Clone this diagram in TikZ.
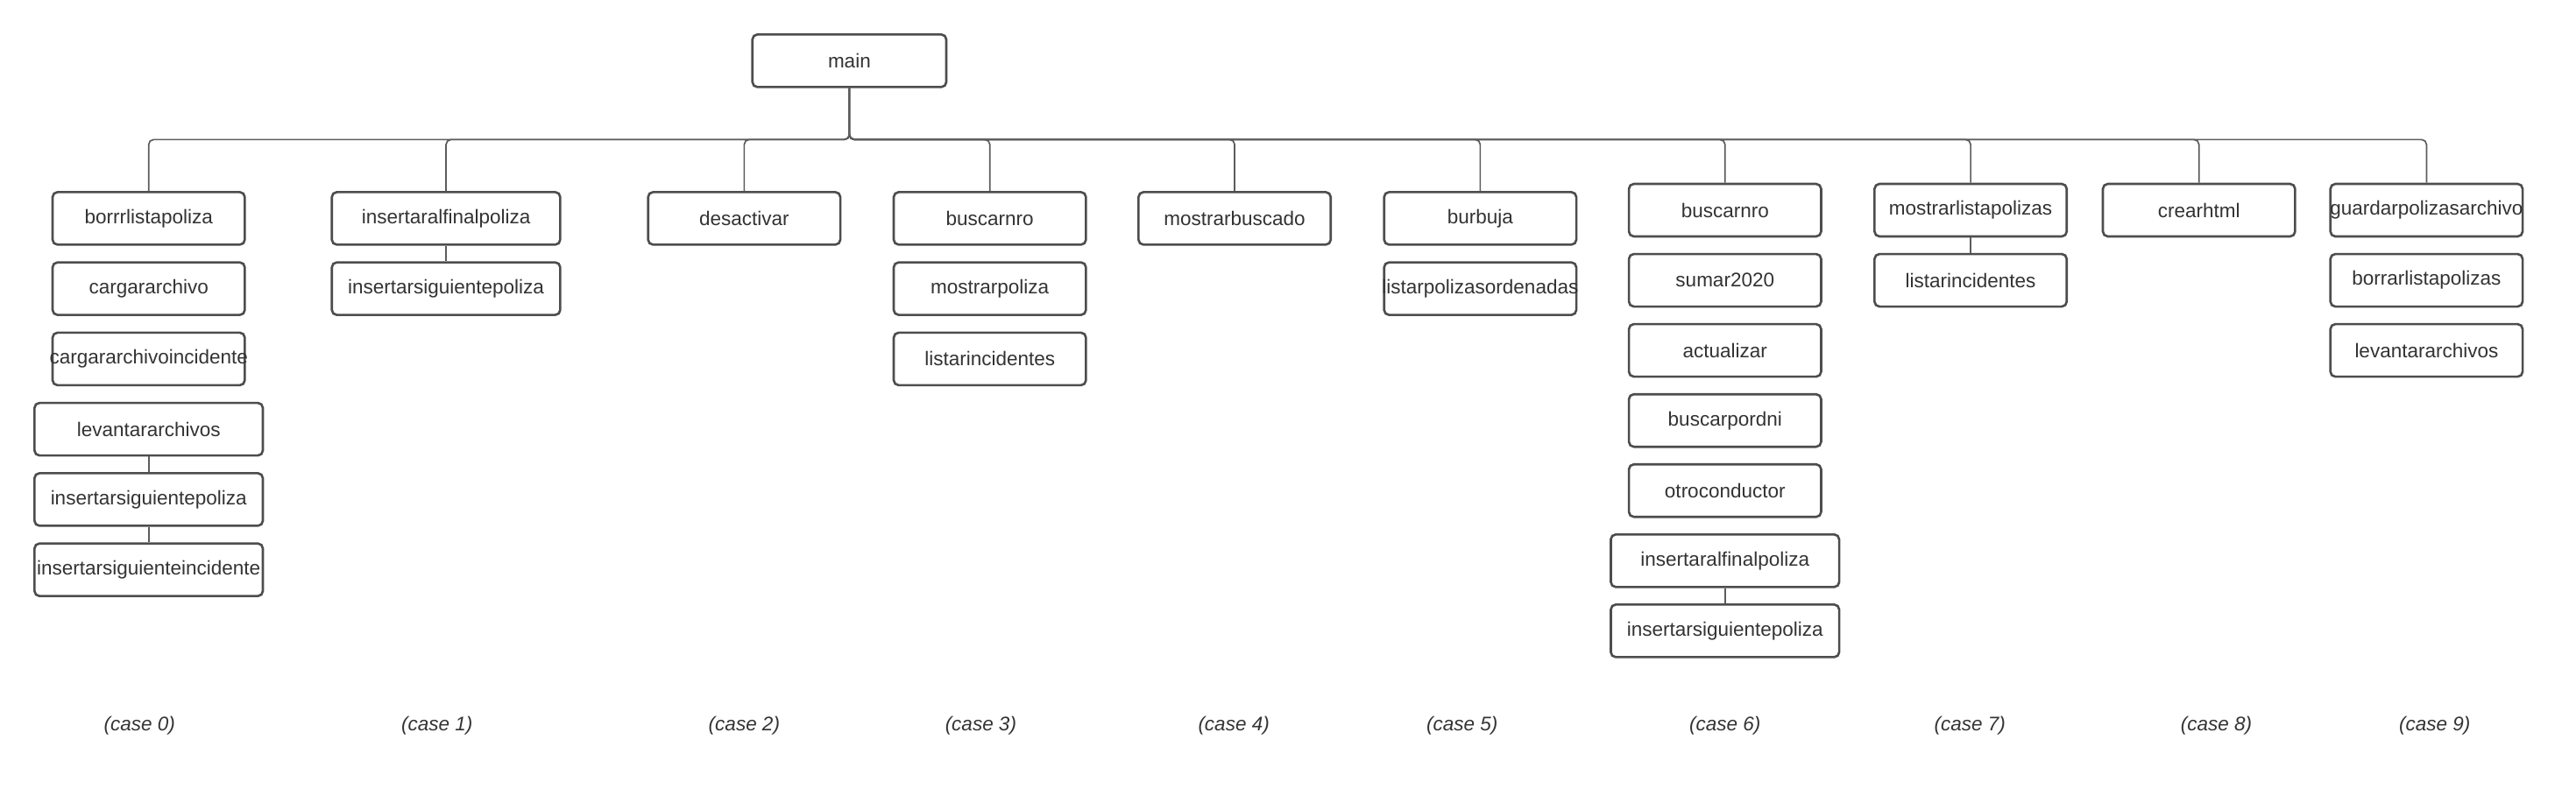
\documentclass[tikz,border=0pt]{standalone}
\usepackage{fontspec}
\setmainfont{Liberation Sans}
\usetikzlibrary{positioning}

\definecolor{boxline}{HTML}{4D4D4D}
\definecolor{wireline}{HTML}{5C5C5C}
\definecolor{labeltext}{HTML}{333333}

\newcommand{\fname}[1]{\makebox[0pt]{#1}}

\tikzset{
  fn/.style={draw=boxline, line width=1.4pt, rounded corners=3pt, fill=white,
    minimum width=117pt, minimum height=32pt, inner sep=0pt, text=labeltext,
    font=\fontsize{12}{14}\selectfont},
  fnwide/.style={fn, minimum width=139pt},
  wire/.style={draw=wireline, line width=0.9pt},
  caselabel/.style={text=labeltext, font=\fontsize{12}{14}\selectfont\itshape}
}

\begin{document}
\begin{tikzpicture}[x=1pt, y=1pt]
    \useasboundingbox (0,0) rectangle (1568,-480);

    % Root
    \node[fn, minimum width=118pt] (main) at (517,-37) {main};
    \coordinate (bus) at (517,-85);

    % case 0
    \foreach \name [count=\i] in {borrrlistapoliza, cargararchivo, cargararchivoincidente} {
      \node[fn] (c0r\i) at (90.5, -90.2-42.8*\i) {\fname{\name}};
    }
    \foreach \name [count=\i from 4] in {levantararchivos, insertarsiguientepoliza, insertarsiguienteincidente} {
      \node[fnwide] (c0r\i) at (90.5, -90.2-42.8*\i) {\fname{\name}};
    }

    % case 1
    \foreach \name [count=\i] in {insertaralfinalpoliza, insertarsiguientepoliza} {
      \node[fnwide] (c1r\i) at (271.5, -90.2-42.8*\i) {\fname{\name}};
    }

    % case 2
    \node[fn] (c2r1) at (453,-133) {desactivar};

    % case 3
    \foreach \name [count=\i] in {buscarnro, mostrarpoliza, listarincidentes} {
      \node[fn] (c3r\i) at (602.5, -90.2-42.8*\i) {\fname{\name}};
    }

    % case 4
    \node[fn] (c4r1) at (751.5,-133) {mostrarbuscado};

    % case 5
    \foreach \name [count=\i] in {burbuja, listarpolizasordenadas} {
      \node[fn] (c5r\i) at (901, -90.2-42.8*\i) {\fname{\name}};
    }

    % case 6
    \foreach \name [count=\i] in {buscarnro, sumar2020, actualizar, buscarpordni, otroconductor} {
      \node[fn] (c6r\i) at (1050, -85.3-42.7*\i) {\fname{\name}};
    }
    \foreach \name [count=\i from 6] in {insertaralfinalpoliza, insertarsiguientepoliza} {
      \node[fnwide] (c6r\i) at (1050, -85.3-42.7*\i) {\fname{\name}};
    }

    % case 7
    \foreach \name [count=\i] in {mostrarlistapolizas, listarincidentes} {
      \node[fn] (c7r\i) at (1199.5, -85.3-42.7*\i) {\fname{\name}};
    }

    % case 8
    \node[fn] (c8r1) at (1338.5,-128) {crearhtml};

    % case 9
    \foreach \name [count=\i] in {guardarpolizasarchivo, borrarlistapolizas, levantararchivos} {
      \node[fn] (c9r\i) at (1477, -85.3-42.7*\i) {\fname{\name}};
    }

    % Connections from main to every case
    \foreach \c in {0,...,9} {
      \draw[wire, rounded corners=3pt] (main.south) -- (bus) -| (c\c r1.north);
    }

    % Connections inside a case
    \draw[wire] (c0r4) -- (c0r5);
    \draw[wire] (c0r5) -- (c0r6);
    \draw[wire] (c1r1) -- (c1r2);
    \draw[wire] (c6r6) -- (c6r7);
    \draw[wire] (c7r1) -- (c7r2);

    % Case labels
    \foreach \x/\n in {85/0, 266/1, 453/2, 597/3, 751/4, 890/5, 1050/6, 1199/7, 1349/8, 1482/9} {
      \node[caselabel] (case\n) at (\x,-442) {(case \n)};
    }
  \end{tikzpicture}
\end{document}
